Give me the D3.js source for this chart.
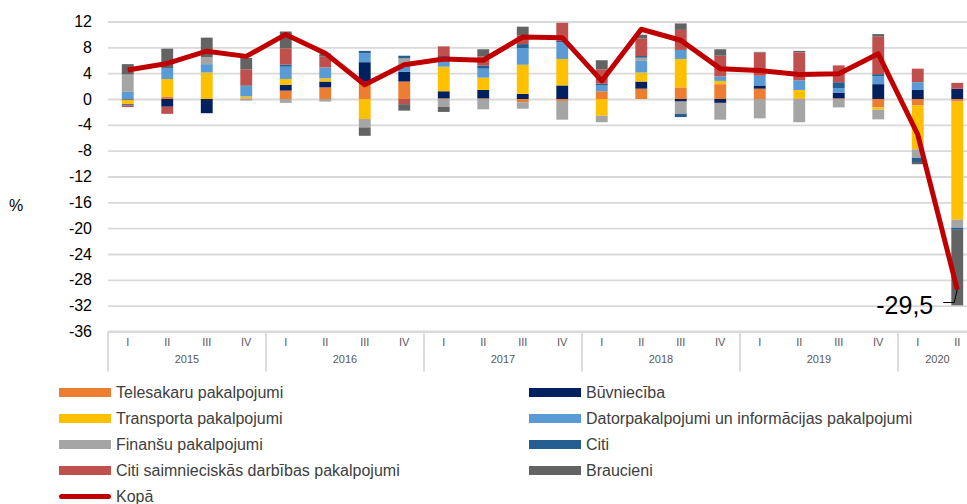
<!DOCTYPE html>
<html>
<head>
<meta charset="utf-8">
<script src="https://cdn.jsdelivr.net/npm/d3@7"></script>
<style>
	body { margin: 0; background: #fff; }
	svg { font-family: "Liberation Sans", Arial, sans-serif; }
</style>
</head>
<body>
<div class="container"></div>
<script>
var	WIDTH = 967,
	HEIGHT = 504,
	LEFT = 108,
	RIGHT = 977,
	TOP = 21.5,
	BOTTOM = 331.5;

// quarters 2015 I .. 2020 II
var quarters = ['I','II','III','IV','I','II','III','IV','I','II','III','IV','I','II','III','IV','I','II','III','IV','I','II'];
var years = ['2015','2016','2017','2018','2019','2020'];
var yTicks = [12, 8, 4, 0, -4, -8, -12, -16, -20, -24, -28, -32, -36];

var telesakaru = [-0.1, 0.4, 0, 0.1, 1.3, 1.8, 2.7, 2.7, 0.1, 0.1, -0.5, -0.3, 1.2, 1.6, 1.8, 2.3, 1.6, 0.1, 0.1, -1.3, -1.0, -0.4];
var buvnieciba = [-0.1, -1.2, -2.2, 0, 0.9, 0.9, 3.0, 1.5, 1.1, 1.3, 0.8, 2.1, 0, 1.1, -0.4, -0.6, 0.5, 0, 0.9, 2.3, 1.4, 1.6];
var transports = [-0.6, 2.7, 4.1, 0.3, 0.9, 0.5, -3.1, 0, 3.8, 1.9, 4.5, 4.1, -2.6, 1.4, 4.4, 0.5, 0, 1.3, 0, -0.35, -6.8, -18.3];
var datorpak = [1.1, 1.7, 1.3, 1.6, 1.9, 1.7, 1.4, 1.2, 1.3, 1.4, 2.6, 2.6, 0.9, 1.8, 1.4, 0.7, 1.5, 1.5, 0.7, 1.2, 1.2, 0];
var finansu = [2.7, 0, 1.1, -0.25, -0.6, -0.4, -1.3, 0.9, -1.2, -1.6, -1.0, -2.9, -1.0, 0.5, -1.9, -2.6, -3.0, -3.6, -1.3, -1.5, -1.3, -1.25];
var citi = [-0.2, 0, 0, 0.1, 0.35, 0, 0.35, 0.4, 0.35, 0.5, 0.6, 0.2, 0.3, 0.25, -0.5, 0, 0, 0, 0.9, 0.35, -0.65, -0.3];
var citiSaimn = [-0.25, -1.1, 0, 2.5, 2.5, 1.65, 0, -0.8, 1.5, 1.4, 1.3, 2.8, 2.2, 2.7, 3.1, 3.2, 3.6, 4.3, 2.6, 5.8, 2.1, 0.9];
var braucieni = [1.6, 3.0, 3.0, 1.75, 2.6, 0.5, -1.3, -1.0, -0.8, 1.1, 1.4, 0, 1.4, 0.6, 1.0, 1.0, 0.1, 0.25, 0, 0.4, -0.35, -11.7];
var kopa = [4.5, 5.5, 7.4, 6.6, 10.0, 7.1, 2.2, 5.3, 6.2, 6.0, 9.6, 9.5, 2.8, 10.8, 9.1, 4.7, 4.4, 3.8, 3.9, 7.0, -5.5, -29.5];

var seriesNames = ['Telesakaru pakalpojumi', 'Būvniecība', 'Transporta pakalpojumi', 'Datorpakalpojumi un informācijas pakalpojumi',
	'Finanšu pakalpojumi', 'Citi', 'Citi saimnieciskās darbības pakalpojumi', 'Braucieni'];
var seriesValues = [telesakaru, buvnieciba, transports, datorpak, finansu, citi, citiSaimn, braucieni];
var colors = ['#ED7D31', '#002060', '#FFC000', '#5B9BD5', '#A5A5A5', '#255E91', '#C0504D', '#636363'];
var lineName = 'Kopā';
var lastLabel = '-29,5';

function translate(x, y) {
	return 'translate(' + x + ',' + y + ')';
}

var svg = d3.select('.container').append('svg')
	.attr('width', WIDTH)
	.attr('height', HEIGHT);

var idx = d3.range(quarters.length);

var xScale = d3.scaleBand()
	.domain(idx)
	.range([LEFT, RIGHT])
	.paddingInner(0.7)
	.paddingOuter(0.35);

var yScale = d3.scaleLinear()
	.domain([-36, 12])
	.range([BOTTOM, TOP]);

function cx(i) { return xScale(i) + xScale.bandwidth() / 2; }

// gridlines + y labels
var yAxis = d3.axisLeft(yScale)
	.tickValues(yTicks)
	.tickSize(-(WIDTH - LEFT))
	.tickPadding(16)
	.tickFormat(function(d) { return String(d); });

var yAxisGroup = svg.append('g')
	.attr('transform', translate(LEFT, 0))
	.call(yAxis);
yAxisGroup.select('.domain').remove();
yAxisGroup.selectAll('line')
	.attr('stroke', '#d9d9d9')
	.attr('stroke-width', 1.8);
yAxisGroup.selectAll('text')
	.attr('font-size', 16)
	.attr('fill', '#000')
	.attr('font-family', '"Liberation Sans", Arial, sans-serif');

svg.append('text')
	.attr('x', 16)
	.attr('y', 205)
	.attr('dy', '0.35em')
	.attr('text-anchor', 'middle')
	.attr('font-size', 16)
	.text('%');

// stacked bars
var rows = idx.map(function(i) {
	var r = {};
	seriesValues.forEach(function(s, k) { r[k] = s[i]; });
	return r;
});
var stacked = d3.stack()
	.keys(d3.range(seriesValues.length))
	.offset(d3.stackOffsetDiverging)(rows);

svg.append('g').selectAll('g')
	.data(stacked).enter()
	.append('g')
	.attr('fill', function(d, k) { return colors[k]; })
	.selectAll('rect')
	.data(function(d) { return d; }).enter()
	.append('rect')
	.attr('x', function(d, i) { return xScale(i); })
	.attr('width', xScale.bandwidth())
	.attr('y', function(d) { return yScale(Math.max(d[0], d[1])); })
	.attr('height', function(d) { return Math.abs(yScale(d[0]) - yScale(d[1])); });

// total line
var line = d3.line()
	.x(function(d, i) { return cx(i); })
	.y(function(d) { return yScale(d); });

svg.append('path')
	.datum(kopa)
	.attr('fill', 'none')
	.attr('stroke', '#C00000')
	.attr('stroke-width', 5)
	.attr('stroke-linejoin', 'round')
	.attr('d', line);

// label for last value
var lastI = kopa.length - 1;
var lx = cx(lastI), ly = yScale(kopa[lastI]);
svg.append('path')
	.attr('fill', 'none')
	.attr('stroke', '#000')
	.attr('stroke-width', 1)
	.attr('d', 'M' + lx + ',' + ly + 'L' + (lx - 3) + ',' + (ly + 13) + 'L' + (lx - 14) + ',' + (ly + 13));
svg.append('text')
	.attr('x', lx - 24)
	.attr('y', ly + 24)
	.attr('text-anchor', 'end')
	.attr('font-size', 25)
	.text(lastLabel);

// category axis
var catAxis = d3.axisBottom(xScale)
	.tickSize(0)
	.tickPadding(7)
	.tickFormat(function(i) { return quarters[i]; });
var catGroup = svg.append('g')
	.attr('transform', translate(0, BOTTOM))
	.call(catAxis);
catGroup.select('.domain').remove();
catGroup.selectAll('text')
	.attr('font-size', 11)
	.attr('fill', '#595959')
	.attr('font-family', '"Liberation Sans", Arial, sans-serif');

svg.append('line')
	.attr('x1', LEFT).attr('x2', WIDTH)
	.attr('y1', BOTTOM).attr('y2', BOTTOM)
	.attr('stroke', '#d9d9d9')
	.attr('stroke-width', 1.8);

var step = xScale.step();
var yearStart = years.map(function(y, k) { return k * 4; });
svg.append('g').selectAll('line')
	.data(yearStart).enter()
	.append('line')
	.attr('x1', function(i) { return LEFT + i * step; })
	.attr('x2', function(i) { return LEFT + i * step; })
	.attr('y1', BOTTOM)
	.attr('y2', BOTTOM + 40)
	.attr('stroke', '#d9d9d9')
	.attr('stroke-width', 1.8);

svg.append('g').selectAll('text')
	.data(years).enter()
	.append('text')
	.attr('x', function(y, k) {
		var a = k * 4, b = Math.min(k * 4 + 3, quarters.length - 1);
		return (cx(a) + cx(b)) / 2;
	})
	.attr('y', BOTTOM + 31)
	.attr('text-anchor', 'middle')
	.attr('font-size', 11)
	.attr('fill', '#595959')
	.text(function(y) { return y; });

// legend
var legendItems = seriesNames.map(function(n, k) { return { name: n, color: colors[k], line: false }; });
legendItems.push({ name: lineName, color: '#C00000', line: true });

var legend = svg.append('g').selectAll('g')
	.data(legendItems).enter()
	.append('g')
	.attr('transform', function(d, k) {
		var col = d.line ? 0 : k % 2;
		var row = d.line ? 4 : Math.floor(k / 2);
		return translate(col ? 529 : 59, 392.5 + row * 26);
	});

legend.append('rect')
	.attr('x', 0)
	.attr('y', function(d) { return d.line ? -2.5 : -4.5; })
	.attr('width', 52)
	.attr('height', function(d) { return d.line ? 5 : 9; })
	.attr('rx', function(d) { return d.line ? 2.5 : 0; })
	.attr('fill', function(d) { return d.color; });

legend.append('text')
	.attr('x', 57)
	.attr('dy', '0.35em')
	.attr('font-size', 16)
	.attr('fill', '#404040')
	.text(function(d) { return d.name; });
</script>
</body>
</html>
